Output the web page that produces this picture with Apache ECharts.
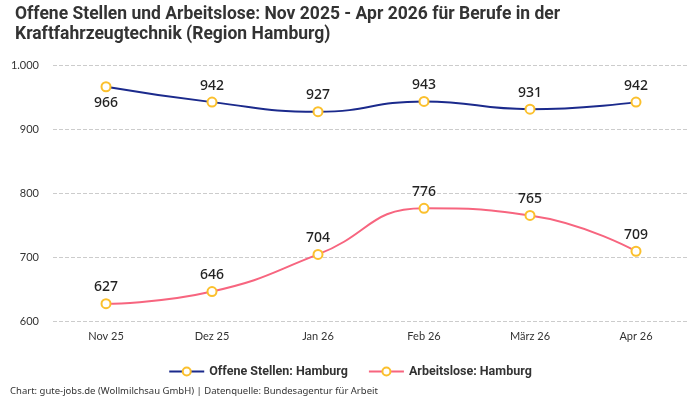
<!DOCTYPE html>
<html>
<head>
<meta charset="utf-8">
<script src="https://cdn.jsdelivr.net/npm/echarts@6/dist/echarts.min.js"></script>
<style>
  html, body { margin: 0; padding: 0; background: #fff; }
  #chart { width: 700px; height: 400px; }
</style>
</head>
<body>
<div id="chart"></div>
<script>
const months = ['Nov 25', 'Dez 25', 'Jan 26', 'Feb 26', 'März 26', 'Apr 26'];
const offeneStellen = [966, 942, 927, 943, 931, 942];
const arbeitslose = [627, 646, 704, 776, 765, 709];

const chart = echarts.init(document.getElementById('chart'));

const fmt = v => String(v).replace(/\B(?=(\d{3})+(?!\d))/g, '.');

const markerColor = '#fbc02d';
const labelStyle = {
    show: true,
    position: 'top',
    distance: 4,
    fontFamily: 'Noto Sans',
    fontSize: 14,
    fontWeight: 500,
    color: '#222'
};

chart.setOption({
    animation: false,
    title: {
        text: 'Offene Stellen und Arbeitslose: Nov 2025 - Apr 2026 für Berufe in der\nKraftfahrzeugtechnik (Region Hamburg)',
        left: 10,
        top: 0,
        textStyle: {
            fontFamily: 'Roboto',
            fontSize: 17.5,
            fontWeight: 'bold',
            color: '#333',
            lineHeight: 20
        }
    },
    grid: {
        left: 53,
        right: 11,
        top: 65,
        bottom: 79
    },
    legend: {
        bottom: 17,
        itemGap: 20,
        itemWidth: 35,
        itemHeight: 10,
        textStyle: { fontFamily: 'Roboto', fontWeight: 'bold', fontSize: 12.5, color: '#333' },
        data: ['Offene Stellen: Hamburg', 'Arbeitslose: Hamburg']
    },
    graphic: [{
        type: 'text',
        left: 10,
        bottom: 4,
        style: {
            text: 'Chart: gute-jobs.de (Wollmilchsau GmbH) | Datenquelle: Bundesagentur für Arbeit',
            fontFamily: 'Noto Sans',
            fontSize: 9.5,
            fill: '#333'
        }
    }],
    xAxis: {
        type: 'category',
        data: months,
        boundaryGap: true,
        axisLine: { show: false },
        axisTick: { show: false },
        axisLabel: { fontFamily: 'Lato', fontSize: 11, color: '#333', margin: 10 }
    },
    yAxis: {
        type: 'value',
        min: 600,
        max: 1000,
        interval: 100,
        axisLabel: {
            fontFamily: 'Lato',
            fontSize: 11,
            color: '#333',
            margin: 14,
            formatter: fmt
        },
        splitLine: { lineStyle: { type: 'dashed', color: '#ccc' } }
    },
    series: [
        {
            name: 'Offene Stellen: Hamburg',
            type: 'line',
            smooth: true,
            data: offeneStellen.map((v, i) => i === 0
                ? { value: v, label: { position: 'bottom' } }
                : v),
            symbol: 'circle',
            symbolSize: 9,
            color: '#1b2a8c',
            lineStyle: { color: '#1b2a8c', width: 2 },
            itemStyle: { color: '#fff', borderColor: markerColor, borderWidth: 2 },
            label: labelStyle
        },
        {
            name: 'Arbeitslose: Hamburg',
            type: 'line',
            smooth: true,
            data: arbeitslose,
            symbol: 'circle',
            symbolSize: 9,
            color: '#f7657f',
            lineStyle: { color: '#f7657f', width: 2 },
            itemStyle: { color: '#fff', borderColor: markerColor, borderWidth: 2 },
            label: labelStyle
        }
    ]
});
</script>
</body>
</html>
